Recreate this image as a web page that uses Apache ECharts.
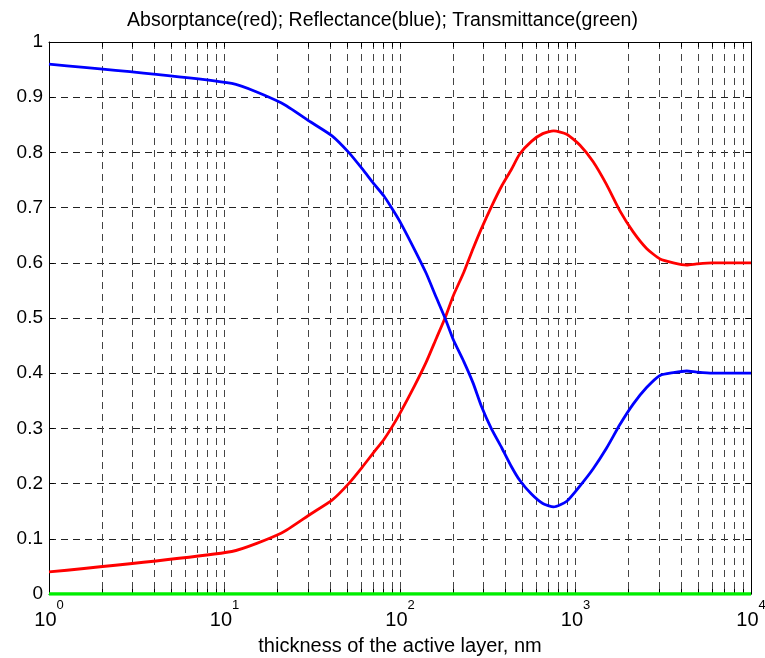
<!DOCTYPE html>
<html>
<head>
<meta charset="utf-8">
<script src="https://cdn.jsdelivr.net/npm/echarts@6/dist/echarts.min.js"></script>
<style>
  html, body { margin: 0; padding: 0; background: #fff; }
  #main { width: 765px; height: 658px; }
</style>
</head>
<body>
<div id="main"></div>
<script>
// thickness of the active layer, nm (x samples)
var thickness = [1, 11, 21, 31, 41, 51, 61, 71, 81, 91, 101, 121, 141, 161, 181, 201, 231, 261, 291, 331,
  381, 431, 481, 561, 651, 751, 891, 1061, 1261, 1501, 1791, 2131, 2541, 3031, 3611, 4301, 4901, 6001, 8001, 10000];
// reflectance (blue)
var reflectance = [0.960, 0.925, 0.890, 0.855, 0.830, 0.800, 0.770, 0.743, 0.721, 0.696, 0.672, 0.624, 0.581, 0.537,
  0.499, 0.461, 0.421, 0.382, 0.340, 0.300, 0.264, 0.231, 0.206, 0.181, 0.164, 0.158, 0.168, 0.196, 0.227,
  0.264, 0.307, 0.344, 0.374, 0.396, 0.401, 0.404, 0.402, 0.400, 0.400, 0.400];
// absorptance (red)
var absorptance = [0.040, 0.077, 0.110, 0.145, 0.170, 0.200, 0.230, 0.257, 0.280, 0.305, 0.330, 0.377, 0.420, 0.463,
  0.501, 0.540, 0.583, 0.626, 0.662, 0.701, 0.740, 0.769, 0.797, 0.820, 0.834, 0.839, 0.833, 0.813, 0.783,
  0.742, 0.694, 0.656, 0.626, 0.607, 0.600, 0.596, 0.598, 0.600, 0.600, 0.600];
// transmittance (green)
var transmittance = [0, 0, 0, 0, 0, 0, 0, 0, 0, 0, 0, 0, 0, 0, 0, 0, 0, 0, 0, 0,
  0, 0, 0, 0, 0, 0, 0, 0, 0, 0, 0, 0, 0, 0, 0, 0, 0, 0, 0, 0];

var majorTicks = [1, 10, 100, 1000, 10000];
var xTicks = [];
for (var d = 1; d < 10000; d *= 10) {
  for (var k = 1; k < 10; k++) xTicks.push(k * d);
}
xTicks.push(10000);

function pairs(ys) {
  return thickness.map(function (x, i) { return [x, ys[i]]; });
}

var FONT = 'Liberation Sans, Arial, Helvetica, sans-serif';

var chart = echarts.init(document.getElementById('main'));

var option = {
  animation: false,
  backgroundColor: '#fff',
  title: {
    text: 'Absorptance(red); Reflectance(blue); Transmittance(green)',
    left: 'center',
    top: 6,
    textStyle: { fontFamily: FONT, fontSize: 19.5, fontWeight: 'normal', color: '#000' }
  },
  grid: { left: 49, right: 14, top: 42, bottom: 64, containLabel: false, outerBoundsMode: 'none' },
  xAxis: [{
    type: 'log',
    logBase: 10,
    min: 1,
    max: 10000,
    name: 'thickness of the active layer, nm',
    nameLocation: 'middle',
    nameGap: 42,
    nameTextStyle: { fontFamily: FONT, fontSize: 20, color: '#000' },
    axisLine: { show: true, onZero: false, lineStyle: { color: '#000', width: 1 } },
    axisTick: { show: true, inside: true, length: 5, customValues: xTicks, lineStyle: { color: '#000' } },
    axisLabel: {
      customValues: majorTicks,
      margin: 5,
      formatter: function (v) {
        return '{b|10}{s|' + Math.round(Math.log10(v)) + '}';
      },
      rich: {
        b: { fontFamily: FONT, fontSize: 20, color: '#000', verticalAlign: 'bottom', lineHeight: 31 },
        s: { fontFamily: FONT, fontSize: 13, color: '#000', verticalAlign: 'top', lineHeight: 15 }
      }
    },
    splitLine: { show: true, lineStyle: { color: '#444', width: 1, type: [7, 5] } }
  }, {
    type: 'log',
    logBase: 10,
    min: 1,
    max: 10000,
    position: 'top',
    axisLine: { show: true, onZero: false, lineStyle: { color: '#000', width: 1 } },
    axisTick: { show: true, inside: true, length: 5, customValues: xTicks, lineStyle: { color: '#000' } },
    axisLabel: { show: false },
    splitLine: { show: false }
  }],
  yAxis: [{
    type: 'value',
    min: 0,
    max: 1,
    interval: 0.1,
    axisLine: { show: true, onZero: false, lineStyle: { color: '#000', width: 1 } },
    axisTick: { show: true, inside: true, length: 5, lineStyle: { color: '#000' } },
    axisLabel: { fontFamily: FONT, fontSize: 19, color: '#000', margin: 6 },
    splitLine: { show: true, lineStyle: { color: '#222', width: 1, type: [7, 5] } }
  }, {
    type: 'value',
    min: 0,
    max: 1,
    interval: 0.1,
    position: 'right',
    axisLine: { show: true, onZero: false, lineStyle: { color: '#000', width: 1 } },
    axisTick: { show: true, inside: true, length: 5, lineStyle: { color: '#000' } },
    axisLabel: { show: false },
    splitLine: { show: false }
  }],
  series: [{
    name: 'Absorptance',
    type: 'line',
    data: pairs(absorptance),
    showSymbol: false,
    symbol: 'none',
    smooth: 0.2,
    lineStyle: { color: '#ff0000', width: 2.8 },
    z: 3
  }, {
    name: 'Reflectance',
    type: 'line',
    data: pairs(reflectance),
    showSymbol: false,
    symbol: 'none',
    smooth: 0.2,
    lineStyle: { color: '#0000ff', width: 2.8 },
    z: 4
  }, {
    name: 'Transmittance',
    type: 'line',
    data: pairs(transmittance),
    showSymbol: false,
    symbol: 'none',
    lineStyle: { color: '#00ee00', width: 3.5 },
    z: 5
  }]
};

chart.setOption(option);
</script>
</body>
</html>
